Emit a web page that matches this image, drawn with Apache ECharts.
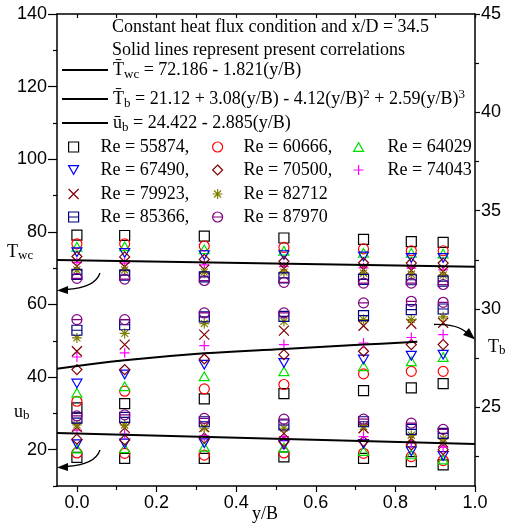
<!DOCTYPE html>
<html><head><meta charset="utf-8">
<script src="https://cdn.jsdelivr.net/npm/echarts@6/dist/echarts.min.js"></script>
<style>html,body{margin:0;padding:0;background:#fff}#c{width:508px;height:527px}</style>
</head><body><div id="c"></div>
<script>
// ---- data ----
const yB = [0.0, 0.12, 0.32, 0.52, 0.72, 0.84, 0.92];
const reNames = ['55874','60666','64029','67490','70500','74043','79923','82712','85366','87970'];
// wall temperature T_wc (left axis)
const twcValues = [
  [79.1, 79.0, 78.8, 78.3, 77.9, 77.3, 77.1],
  [76.7, 76.7, 76.1, 75.7, 75.3, 74.8, 74.8],
  [75.9, 76.0, 75.2, 74.8, 74.2, 74.2, 74.0],
  [74.4, 74.2, 73.6, 73.6, 73.2, 72.8, 72.8],
  [73.2, 73.1, 72.4, 71.9, 71.5, 71.4, 71.4],
  [71.5, 71.4, 70.9, 70.4, 70.1, 70.0, 69.5],
  [70.5, 70.4, 69.6, 69.9, 69.6, 69.4, 69.0],
  [69.5, 69.5, 68.9, 68.9, 68.6, 68.3, 68.1],
  [68.3, 68.1, 67.6, 67.3, 66.9, 66.8, 66.4],
  [67.2, 67.0, 66.6, 66.1, 65.9, 65.9, 65.5]
];
// bulk temperature T_b (right axis)
const tbValues = [
  [24.97, 25.19, 25.43, 25.70, 25.85, 25.99, 26.21],
  [25.31, 25.82, 25.94, 26.16, 26.70, 26.83, 26.83],
  [25.74, 26.07, 26.58, 26.83, 27.09, 27.34, 27.56],
  [26.21, 26.67, 27.17, 27.26, 27.43, 27.63, 27.68],
  [26.92, 26.92, 27.46, 27.68, 27.85, 28.19, 28.19],
  [27.56, 27.77, 28.14, 28.19, 28.27, 28.55, 28.70],
  [27.85, 28.19, 28.70, 28.90, 29.15, 29.25, 29.30],
  [28.53, 28.76, 29.26, 29.37, 29.46, 29.46, 29.60],
  [28.92, 29.20, 29.60, 29.63, 29.66, 29.97, 30.00],
  [29.46, 29.46, 29.80, 29.80, 30.31, 30.39, 30.34]
];
// bulk velocity u_b (left axis)
const ubValues = [
  [17.9, 17.6, 17.6, 18.0, 17.6, 16.7, 15.8],
  [19.1, 19.0, 18.5, 19.1, 19.0, 18.1, 17.0],
  [20.3, 20.4, 20.8, 20.6, 19.6, 18.7, 17.3],
  [21.5, 21.7, 21.8, 21.3, 21.6, 19.6, 18.3],
  [22.9, 22.7, 23.2, 22.2, 22.3, 21.3, 20.0],
  [25.4, 24.3, 23.8, 23.6, 23.6, 21.9, 20.7],
  [26.2, 26.0, 26.2, 24.5, 25.9, 23.1, 22.0],
  [26.8, 26.8, 25.9, 25.9, 26.4, 24.0, 23.0],
  [28.7, 28.9, 27.7, 26.8, 27.7, 25.6, 24.5],
  [29.3, 29.6, 28.6, 28.4, 28.4, 27.3, 25.6]
];
const twcLineX = [-0.05, 1.0];
const twcLineY = [72.28, 70.37];
const tbLineX = [-0.05, 0.12, 0.32, 0.52, 0.72, 0.855];
const tbLineY = [26.96, 27.39, 27.75, 27.97, 28.19, 28.33];
const ubLineX = [-0.05, 1.0];
const ubLineY = [24.57, 21.54];
const xMajorTicks = [0, 0.2, 0.4, 0.6, 0.8, 1.0];
const xMinorTicks = [0.1, 0.3, 0.5, 0.7, 0.9];
const xAllTicks = [0, 0.1, 0.2, 0.3, 0.4, 0.5, 0.6, 0.7, 0.8, 0.9, 1.0];
const leftMajorTicks = [20, 40, 60, 80, 100, 120, 140];
const leftMinorTicks = [10, 30, 50, 70, 90, 110, 130];
const rightMajorTicks = [25, 30, 35, 40, 45];
const rightMinorTicks = [22.5, 27.5, 32.5, 37.5, 42.5];
const commaNames = ['55874','60666','67490','70500','79923','85366'];

// ---- styles ----
const colors = ['#000000','#ff0000','#00e000','#0000ff','#800000','#ff00ff','#800000','#808000','#000080','#800080'];
const symbols = [
  'path://M0,0L10,0L10,10L0,10Z',
  'path://M0,5A5,5 0 1,1 10,5A5,5 0 1,1 0,5Z',
  'path://M5,0L10,8.66L0,8.66Z',
  'path://M0,0L10,0L5,8.66Z',
  'path://M5,0L10,5L5,10L0,5Z',
  'path://M5,0L5,10M0,5L10,5',
  'path://M0,0L10,10M10,0L0,10',
  'path://M5,0L5,10M0,5L10,5M1.46,1.46L8.54,8.54M8.54,1.46L1.46,8.54',
  'path://M0,0L10,0L10,10L0,10ZM0,5L10,5',
  'path://M0,5A5,5 0 1,1 10,5A5,5 0 1,1 0,5ZM0,5L10,5'
];
const SERIF = 'Liberation Serif';
const SANS = 'Liberation Sans';

const series = [];
function addGroup(vals, yIdx) {
  vals.forEach((row, i) => {
    series.push({
      type: 'scatter', name: reNames[i], xAxisIndex: 0, yAxisIndex: yIdx,
      data: yB.map((x, j) => [x, row[j]]),
      symbol: symbols[i], symbolSize: 10, symbolKeepAspect: true,
      itemStyle: { color: 'transparent', borderColor: colors[i], borderWidth: 1.2, opacity: 1 },
      z: 3
    });
  });
}
addGroup(twcValues, 0);
addGroup(tbValues, 2);
addGroup(ubValues, 0);
const lineCommon = { type: 'line', xAxisIndex: 0, symbol: 'none', itemStyle: { color: '#000' }, lineStyle: { color: '#000', width: 2 }, z: 5 };
series.push({ ...lineCommon, name: 'Twc', yAxisIndex: 0, data: twcLineX.map((x, i) => [x, twcLineY[i]]) });
series.push({ ...lineCommon, name: 'Tb', yAxisIndex: 2, smooth: 0.4, data: tbLineX.map((x, i) => [x, tbLineY[i]]) });
series.push({ ...lineCommon, name: 'ub', yAxisIndex: 0, data: ubLineX.map((x, i) => [x, ubLineY[i]]) });

const eqRich = {
  a: { fontFamily: SERIF, fontSize: 18, lineHeight: 22, color: '#000' },
  s: { fontFamily: SERIF, fontSize: 13, lineHeight: 13, verticalAlign: 'bottom', color: '#000' },
  p: { fontFamily: SERIF, fontSize: 13, lineHeight: 13, verticalAlign: 'top', color: '#000' }
};
const eqText = {
  Twc: '{a|T\u0304}{s|wc}{a| = 72.186 - 1.821(y/B)}',
  Tb: '{a|T\u0304}{s|b}{a| = 21.12 + 3.08(y/B) - 4.12(y/B)}{p|2}{a| + 2.59(y/B)}{p|3}',
  ub: '{a|u\u0304}{s|b}{a| = 24.422 - 2.885(y/B)}'
};
const legends = [];
[['Twc', 72], ['Tb', 99], ['ub', 125]].forEach(([n, cy]) => {
  legends.push({ data: [{ name: n, icon: 'rect' }], left: 62, top: cy - 11, padding: 0, itemWidth: 46, itemHeight: 2, itemGap: 0,
    selectedMode: false, itemStyle: { color: '#000', borderWidth: 0 },
    formatter: nm => eqText[nm], textStyle: { rich: eqRich } });
});
const reCols = [
  [73, 100, ['55874','67490','79923','85366']],
  [217, 243, ['60666','70500','82712','87970']],
  [358, 387, ['64029','74043']]
];
const reRows = [147, 170, 194, 217];
reCols.forEach(([mx, tx, names]) => {
  names.forEach((n, r) => {
    legends.push({ data: [n], left: mx - 5, top: reRows[r] - 10, padding: 0, itemWidth: 10, itemHeight: 10, itemGap: 0,
      selectedMode: false, itemStyle: { borderWidth: 1.2 },
      formatter: nm => 'Re = ' + nm + (commaNames.includes(nm) ? ',' : ''),
      textStyle: { fontFamily: SERIF, fontSize: 18, lineHeight: 20, color: '#000', padding: [0, 0, 0, tx - (mx + 10)] } });
  });
});

const axisLine = { show: true, onZero: false, lineStyle: { color: '#000', width: 1.5 } };
const tickStyle = { color: '#000', width: 1.2 };
const labelStyle = { fontFamily: SANS, fontSize: 18, color: '#000' };

const nameRich = {
  a: { fontFamily: SERIF, fontSize: 18, lineHeight: 20, color: '#000' },
  s: { fontFamily: SERIF, fontSize: 13, lineHeight: 13, verticalAlign: 'bottom', color: '#000' }
};
function arrow(x0, y0, cx, cy, x1, y1, tip, b1, b2) {
  return [
    { type: 'bezierCurve', shape: { x1: x0, y1: y0, cpx1: cx, cpy1: cy, x2: x1, y2: y1 },
      style: { stroke: '#000', lineWidth: 1.3, fill: null }, z: 10 },
    { type: 'polygon', shape: { points: [tip, b1, b2] }, style: { fill: '#000' }, z: 10 }
  ];
}

const option = {
  animation: false,
  backgroundColor: '#fff',
  grid: { left: 57, right: 33, top: 14, bottom: 41, containLabel: false },
  xAxis: [
    { type: 'value', position: 'bottom', min: -0.05, max: 1.0, axisLine,
      axisTick: { show: true, inside: false, length: 6, lineStyle: tickStyle, customValues: xMajorTicks },
      axisLabel: { show: true, margin: 8, ...labelStyle, customValues: xMajorTicks, formatter: v => v.toFixed(1) },
      splitLine: { show: false } },
    { type: 'value', position: 'bottom', min: -0.05, max: 1.0, axisLine: { show: false, onZero: false },
      axisTick: { show: true, inside: false, length: 4, lineStyle: tickStyle, customValues: xMinorTicks },
      axisLabel: { show: false }, splitLine: { show: false } },
    { type: 'value', position: 'top', min: -0.05, max: 1.0, axisLine,
      axisTick: { show: true, inside: true, length: 4, lineStyle: tickStyle, customValues: xAllTicks },
      axisLabel: { show: false }, splitLine: { show: false } }
  ],
  yAxis: [
    { type: 'value', position: 'left', min: 10, max: 140, axisLine,
      axisTick: { show: true, inside: false, length: 9, lineStyle: tickStyle, customValues: leftMajorTicks },
      axisLabel: { show: true, margin: 10, ...labelStyle, customValues: leftMajorTicks },
      splitLine: { show: false } },
    { type: 'value', position: 'left', min: 10, max: 140, axisLine: { show: false, onZero: false },
      axisTick: { show: true, inside: false, length: 4, lineStyle: tickStyle, customValues: leftMinorTicks },
      axisLabel: { show: false }, splitLine: { show: false } },
    { type: 'value', position: 'right', min: 21, max: 45, axisLine,
      axisTick: { show: true, inside: false, length: 5, lineStyle: tickStyle, customValues: rightMajorTicks },
      axisLabel: { show: true, margin: 6, ...labelStyle, customValues: rightMajorTicks },
      splitLine: { show: false } },
    { type: 'value', position: 'right', min: 21, max: 45, axisLine: { show: false, onZero: false },
      axisTick: { show: true, inside: false, length: 4, lineStyle: tickStyle, customValues: rightMinorTicks },
      axisLabel: { show: false }, splitLine: { show: false } }
  ],
  legend: legends,
  series,
  graphic: [
    { type: 'text', x: 112, y: 27, style: { text: 'Constant heat flux condition and x/D = 34.5', font: '18px "Liberation Serif"', fill: '#000', verticalAlign: 'middle' } },
    { type: 'text', x: 112, y: 50, style: { text: 'Solid lines represent present correlations', font: '18px "Liberation Serif"', fill: '#000', verticalAlign: 'middle' } },
    { type: 'text', x: 7, y: 252, style: { text: '{a|T}{s|wc}', rich: nameRich, verticalAlign: 'middle' } },
    { type: 'text', x: 14, y: 412, style: { text: '{a|u}{s|b}', rich: nameRich, verticalAlign: 'middle' } },
    { type: 'text', x: 488, y: 347, style: { text: '{a|T}{s|b}', rich: nameRich, verticalAlign: 'middle' } },
    { type: 'text', x: 252, y: 514, style: { text: 'y/B', font: '18px "Liberation Serif"', fill: '#000', verticalAlign: 'middle' } },
    ...arrow(100, 273, 95, 288, 66, 289.5, [57, 290.5], [68, 286], [68, 294]),
    ...arrow(100, 450, 95, 465, 66, 466.5, [57, 467.5], [68, 463], [68, 471]),
    ...arrow(434, 324.5, 458, 324, 467, 333, [475, 339.5], [463, 335], [469, 328])
  ]
};
const chart = echarts.init(document.getElementById('c'), null, { renderer: 'canvas' });
chart.setOption(option);
</script>
</body></html>
